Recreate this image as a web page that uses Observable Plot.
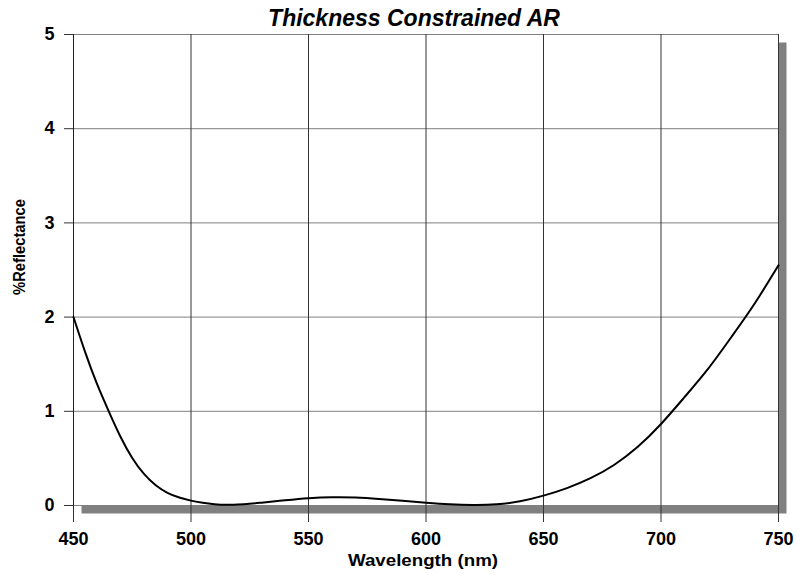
<!DOCTYPE html>
<html>
<head>
<meta charset="utf-8">
<script src="https://cdn.jsdelivr.net/npm/d3@7"></script>
<script src="https://cdn.jsdelivr.net/npm/@observablehq/plot@0.6"></script>
<style>
  html, body { margin: 0; padding: 0; background: white; }
</style>
</head>
<body>
<div id="chart"></div>
<script>
const title = "Thickness Constrained AR";
const xLabel = "Wavelength (nm)";
const yLabel = "%Reflectance";
const xTicks = [450, 500, 550, 600, 650, 700, 750];
const yTicks = [0, 1, 2, 3, 4, 5];
const wavelength = [450, 455, 460, 465, 470, 475, 480, 485, 490, 495, 500, 505, 510, 515, 520, 525, 530, 540, 550, 560, 570, 580, 590, 600, 610, 620, 630, 640, 650, 660, 670, 680, 690, 700, 710, 720, 730, 740, 750];
const reflectance = [2.0, 1.625, 1.29, 1.0, 0.73, 0.505, 0.335, 0.215, 0.135, 0.085, 0.052, 0.028, 0.014, 0.008, 0.01, 0.018, 0.03, 0.055, 0.077, 0.088, 0.085, 0.07, 0.05, 0.03, 0.013, 0.005, 0.012, 0.045, 0.105, 0.185, 0.29, 0.43, 0.62, 0.865, 1.15, 1.45, 1.79, 2.15, 2.55];

const data = wavelength.map((w, i) => ({w, r: reflectance[i]}));

const chart = Plot.plot({
  width: 797,
  height: 575,
  marginLeft: 73,
  marginRight: 19,
  marginTop: 34,
  marginBottom: 70,
  style: {fontFamily: "'Liberation Sans', Arial, sans-serif", background: "white", color: "black"},
  x: {domain: [450, 750], label: null},
  y: {domain: [0, 5], label: null},
  marks: [
    Plot.frame({fill: "#808080", stroke: null, dx: 8, dy: 8}),
    Plot.frame({fill: "white", stroke: null}),
    Plot.gridY(yTicks, {stroke: "#808080", strokeOpacity: 1, strokeWidth: 1}),
    Plot.gridX(xTicks, {stroke: "#333333", strokeOpacity: 1, strokeWidth: 1}),
    Plot.ruleX([750], {stroke: "#333333"}),
    Plot.axisX(xTicks, {tickSize: 17, tickPadding: 10, fontSize: 18, fontWeight: "bold", stroke: "#333333", tickFormat: d => String(d)}),
    Plot.axisY(yTicks, {tickSize: 9, tickPadding: 10, fontSize: 18, fontWeight: "bold", stroke: "#333333", tickFormat: d => String(d)}),
    Plot.ruleX([450], {stroke: "#222222"}),
    Plot.line(data, {x: "w", y: "r", curve: "natural", stroke: "black", strokeWidth: 2}),
    Plot.text([title], {frameAnchor: "top", dx: -12, dy: -25, fontSize: 23, fontWeight: "bold", fontStyle: "italic"}),
    Plot.text([xLabel], {frameAnchor: "bottom", dx: -3, dy: 60, fontSize: 17, fontWeight: "bold", textLength: 150}),
    Plot.text([yLabel], {frameAnchor: "left", dx: -54, dy: 25, rotate: -90, fontSize: 16, fontWeight: "bold"})
  ]
});
document.getElementById("chart").appendChild(chart);
d3.select(chart).selectAll("text").each(function() {
  if (this.textContent === yLabel) {
    this.setAttribute("textLength", "96");
    this.setAttribute("lengthAdjust", "spacingAndGlyphs");
  }
  if (this.textContent === xLabel) {
    this.setAttribute("textLength", "150");
    this.setAttribute("lengthAdjust", "spacingAndGlyphs");
  }
});
</script>
</body>
</html>
